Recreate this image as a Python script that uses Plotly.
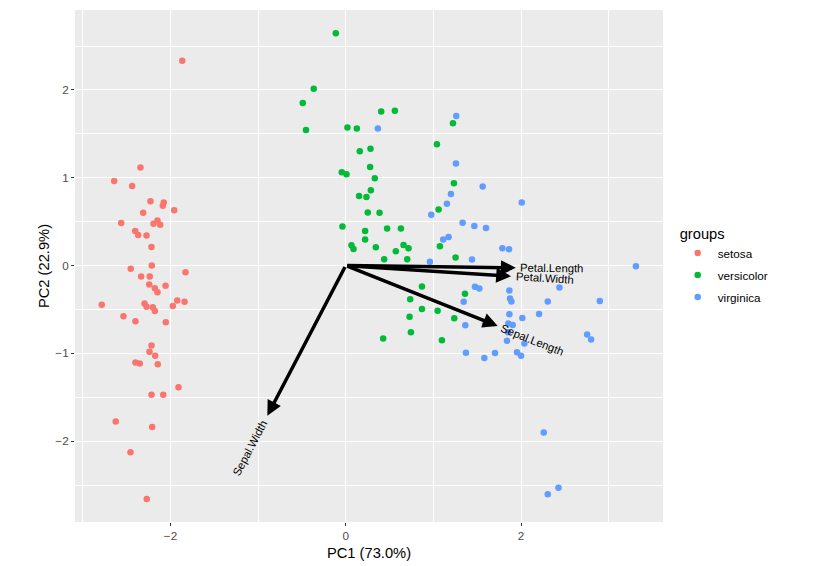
import math
import plotly.graph_objects as go

# ---- data ----
setosa_pc1 = [-1.866, -2.343, -2.643, -2.438, -2.229, -2.077, -2.088, -2.312, -1.958, -2.563,
              -2.194, -2.149, -2.118, -2.403, -2.369, -2.274, -2.217, -2.214, -2.454, -1.829,
              -2.335, -2.237, -2.243, -2.179, -2.149, -2.057, -2.785, -2.297, -2.274, -2.202,
              -2.179, -1.974, -1.923, -1.840, -2.537, -2.400, -2.054, -2.217, -2.240, -2.175,
              -2.400, -2.351, -2.145, -1.909, -2.217, -2.083, -2.625, -2.209, -2.457, -2.271]
setosa_pc2 = [2.331, 1.118, 0.963, 0.907, 0.733, 0.717, 0.680, 0.601, 0.631, 0.484,
              0.476, 0.513, 0.465, 0.393, 0.348, 0.343, 0.212, 0.000, -0.037, -0.076,
              -0.125, -0.125, -0.215, -0.257, -0.303, -0.230, -0.445, -0.431, -0.468, -0.476,
              -0.518, -0.461, -0.397, -0.411, -0.578, -0.635, -0.646, -0.910, -0.982, -1.028,
              -1.103, -1.114, -1.125, -1.386, -1.470, -1.470, -1.776, -1.839, -2.127, -2.659]

versicolor_pc1 = [-0.114, -0.366, -0.491, 0.404, 0.560, -0.454, 0.019, 0.126, 0.160, 0.282,
                  0.278, -0.046, 0.008, 0.331, 0.286, 0.152, 0.236, 0.251, 0.385, -0.038,
                  0.221, 0.472, 0.629, 0.221, 0.065, 0.088, 0.343, 0.659, 0.716, 0.571,
                  0.438, 0.701, 0.869, 0.735, 0.869, 0.728, 0.743, 0.427, 1.223, 1.040,
                  1.234, 1.059, 1.074, 1.253, 1.360, 1.048, 1.238, 1.097]
versicolor_pc2 = [2.644, 2.014, 1.851, 1.753, 1.764, 1.545, 1.571, 1.560, 1.303, 1.329,
                  1.122, 1.062, 1.039, 0.994, 0.858, 0.793, 0.782, 0.604, 0.601, 0.445,
                  0.393, 0.423, 0.423, 0.298, 0.230, 0.189, 0.208, 0.234, 0.196, 0.163,
                  0.072, 0.072, -0.238, -0.385, -0.495, -0.582, -0.759, -0.831, 1.620, 1.382,
                  0.937, 0.638, 0.219, 0.091, -0.321, -0.514, -0.601, -0.850]

virginica_pc1 = [0.366, 1.261, 1.257, 1.562, 2.008, 1.200, 1.154, 0.975, 1.333, 1.467,
                 1.600, 1.112, 1.173, 1.787, 1.863, 1.440, 0.960, 1.474, 1.524, 1.345,
                 1.364, 1.589, 1.371, 1.581, 1.703, 1.867, 1.874, 1.890, 1.867, 2.015,
                 1.855, 1.905, 1.851, 2.038, 1.840, 1.954, 2.000, 3.311, 2.438, 2.305,
                 2.899, 2.206, 2.754, 2.800, 2.259, 2.427, 2.305]
virginica_pc2 = [1.560, 1.703, 1.163, 0.899, 0.717, 0.816, 0.703, 0.578, 0.487, 0.450,
                 0.427, 0.298, 0.325, 0.196, 0.185, 0.068, 0.042, -0.242, -0.261, -0.411,
                 -0.680, -0.665, -0.994, -1.054, -0.997, -0.283, -0.374, -0.408, -0.555, -0.597,
                 -0.661, -0.676, -0.759, -0.887, -0.857, -0.986, -1.027, -0.008, -0.249, -0.408,
                 -0.404, -0.552, -0.786, -0.842, -1.900, -2.530, -2.603]

var_names = ["Sepal.Length", "Sepal.Width", "Petal.Length", "Petal.Width"]
var_pc1 = [1.734, -0.895, 1.940, 1.886]
var_pc2 = [-0.688, -1.709, -0.026, -0.121]

groups = ["setosa", "versicolor", "virginica"]
colors = ["#F8766D", "#00BA38", "#619CFF"]

fig = go.Figure()
for name, xs, ys, col in zip(groups,
                             [setosa_pc1, versicolor_pc1, virginica_pc1],
                             [setosa_pc2, versicolor_pc2, virginica_pc2],
                             colors):
    fig.add_trace(go.Scatter(x=xs, y=ys, mode="markers", name=name, legendgroup=name,
                             marker=dict(color=col, size=6.5, line=dict(width=0))))

# arrows + labels
px_per_unit = 87.7
label_w = {"Sepal.Length": 63, "Sepal.Width": 62, "Petal.Length": 60, "Petal.Width": 56}
annotations = []
for nm, vx, vy in zip(var_names, var_pc1, var_pc2):
    annotations.append(dict(x=vx, y=vy, ax=0, ay=0, xref="x", yref="y", axref="x", ayref="y",
                            showarrow=True, arrowhead=2, arrowsize=0.85, arrowwidth=3.5,
                            arrowcolor="black", text=""))
    ln = math.hypot(vx, vy)
    ux, uy = vx / ln, vy / ln
    off = (6 + label_w[nm] / 2) / px_per_unit
    ang = -math.degrees(math.atan(vy / vx))
    annotations.append(dict(x=vx + ux * off, y=vy + uy * off, xref="x", yref="y",
                            text=nm, showarrow=False, textangle=ang,
                            xanchor="center", yanchor="middle",
                            font=dict(size=11.3, color="black",
                                      family="Liberation Sans, Arial, sans-serif")))

axis_common = dict(showgrid=True, gridcolor="white", gridwidth=1.1, zeroline=False,
                   ticks="outside", ticklen=3, tickwidth=1, tickcolor="#333333",
                   tickfont=dict(size=11.7, color="#4D4D4D"),
                   showline=False, automargin=False)

fig.update_layout(
    width=807, height=558,
    margin=dict(l=67, r=152, t=2, b=44),
    paper_bgcolor="white", plot_bgcolor="#EBEBEB",
    font=dict(family="Liberation Sans, Arial, sans-serif"),
    annotations=annotations,
    legend=dict(title=dict(text="groups", font=dict(size=14.7, color="black")),
                font=dict(size=11.7, color="black"),
                x=1.025, y=0.5, xanchor="left", yanchor="middle",
                bgcolor="white", itemwidth=30, tracegroupgap=3),
)
fig.update_xaxes(range=[-3.09, 3.62], dtick=2, tick0=0,
                 title=dict(text="PC1 (73.0%)", font=dict(size=14.7, color="black"), standoff=6),
                 minor=dict(dtick=1, tick0=1, showgrid=True, gridcolor="white", gridwidth=0.5, ticklen=0),
                 **axis_common)
fig.update_yaxes(range=[-2.92, 2.91], dtick=1, tick0=0,
                 title=dict(text="PC2 (22.9%)", font=dict(size=14.7, color="black"), standoff=2),
                 minor=dict(dtick=0.5, tick0=0.5, showgrid=True, gridcolor="white", gridwidth=0.5, ticklen=0),
                 **axis_common)

fig.write_html("out.html")
